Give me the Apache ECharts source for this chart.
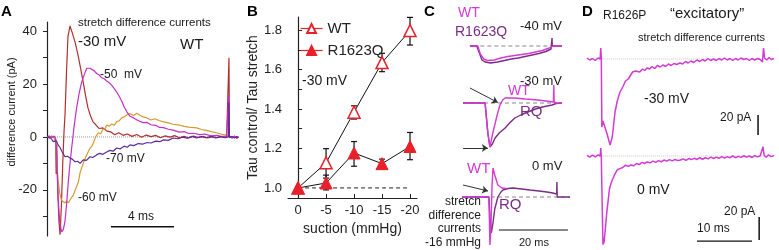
<!DOCTYPE html>
<html>
<head>
<meta charset="utf-8">
<script src="https://cdn.jsdelivr.net/npm/echarts@6/dist/echarts.min.js"></script>
<style>
  html, body { margin: 0; padding: 0; background: #fff; }
  #fig { width: 779px; height: 250px; }
</style>
</head>
<body>
<div id="fig"></div>
<script>
// ---- panel A: stretch difference currents, WT (t in ms, I in pA)
const traceA30 = [[0,0.2],[0.15,-0.4],[0.3,0.3],[0.45,-0.2],[0.55,-1.2],[0.58,-14],[0.62,-3],[0.68,-20],[0.76,-32],[0.83,-37],[0.92,-25],[1.0,-10],[1.08,2],[1.14,8],[1.24,25],[1.33,38],[1.46,42],[1.6,39.5],[1.8,35.5],[1.97,31],[2.13,26],[2.29,21],[2.45,15.5],[2.6,11],[2.76,8],[2.92,5.7],[3.1,4.6],[3.3,3.2],[3.55,3.4],[3.81,2.2],[4.05,1.9],[4.3,0.8],[4.55,1.6],[4.83,0.6],[5.1,1.1],[5.4,0.2],[5.7,0.9],[6.0,-0.1],[6.3,0.7],[6.6,0.1],[6.9,0.6],[7.2,-0.3],[7.5,0.4],[7.8,-0.1],[8.1,0.5],[8.4,-0.3],[8.7,0.2],[9.0,-0.4],[9.3,0.3],[9.6,-0.2],[9.9,0.2],[10.2,-0.4],[10.5,0.1],[10.8,-0.3],[11.1,0.2],[11.4,-0.2],[11.52,0.1],[11.55,30],[11.58,0.3],[11.75,-0.4],[11.9,0.3],[12.05,-0.5],[12.15,0.1]];
const traceA50 = [[0,0],[0.15,0.3],[0.3,-0.2],[0.45,0.3],[0.55,-0.5],[0.62,-8],[0.7,-22],[0.8,-32],[0.93,-36],[1.04,-35],[1.14,-32],[1.25,-25],[1.35,-17],[1.46,-10],[1.57,-4],[1.72,4],[1.88,11],[2.04,16.5],[2.2,20.7],[2.36,23.5],[2.52,26],[2.62,26.5],[2.73,26],[2.85,26.4],[3.0,25],[3.15,24],[3.3,23.5],[3.47,22.4],[3.63,22],[3.79,21.2],[3.95,20.5],[4.1,19.6],[4.26,18.4],[4.42,17],[4.58,15.4],[4.74,13.6],[4.9,11.3],[5.06,9.6],[5.27,7.8],[5.5,7.2],[5.8,6.1],[6.1,5.4],[6.35,5.5],[6.6,4.6],[6.9,4.4],[7.15,3.6],[7.4,3.5],[7.7,2.9],[8.0,2.6],[8.4,1.8],[8.7,2.0],[9.0,1.3],[9.3,1.4],[9.7,0.9],[10.0,1.1],[10.4,0.4],[10.8,0.6],[11.1,0.1],[11.4,0.3],[11.52,0],[11.55,16],[11.58,0.2],[11.75,-0.3],[11.9,0.2],[12.05,-0.4],[12.15,0]];
const traceA60 = [[0,0],[0.15,-0.3],[0.3,0.2],[0.45,-0.4],[0.55,-2],[0.62,-9],[0.7,-16],[0.8,-21],[0.92,-24],[1.04,-24.5],[1.14,-25],[1.25,-24.2],[1.35,-25],[1.5,-23.5],[1.67,-22],[1.83,-19.5],[1.99,-17],[2.1,-13.5],[2.2,-11.7],[2.36,-9],[2.52,-6.8],[2.7,-4.6],[2.85,-3.5],[2.94,-2.3],[3.1,0.2],[3.26,1.5],[3.4,1.2],[3.55,2.8],[3.7,3.3],[3.79,4.5],[3.95,4.1],[4.1,4.9],[4.26,4.4],[4.42,5.7],[4.58,6.1],[4.74,7.2],[4.9,7.6],[5.06,8.3],[5.27,8.8],[5.5,8.1],[5.7,9],[5.9,8.2],[6.1,7.6],[6.35,7.2],[6.6,6.4],[6.85,6.9],[7.1,6.2],[7.4,5.7],[7.7,5.3],[8.0,4.8],[8.4,4.5],[8.7,4.0],[9.0,3.7],[9.5,3.4],[9.8,2.8],[10.1,2.5],[10.5,1.9],[10.8,1.5],[11.1,1.0],[11.3,0.8],[11.52,0.5],[11.55,15],[11.58,0.3],[11.75,-0.2],[11.9,0.3],[12.05,-0.3],[12.15,0]];
const traceA70 = [[0,0],[0.12,0.3],[0.25,-0.5],[0.4,-1.8],[0.5,-2.5],[0.6,-1.5],[0.7,-3],[0.83,-4],[0.95,-5.5],[1.05,-6.2],[1.14,-7.5],[1.3,-7.3],[1.46,-8],[1.62,-8.5],[1.78,-9.4],[1.94,-9.2],[2.1,-10],[2.2,-9.6],[2.3,-8.7],[2.5,-8.9],[2.73,-7.5],[2.9,-7.8],[3.15,-6.8],[3.35,-6.2],[3.55,-6.6],[3.79,-5.7],[4.0,-5.1],[4.2,-5.4],[4.42,-4.2],[4.65,-4.5],[4.9,-3.5],[5.1,-3.9],[5.27,-3],[5.5,-3.3],[5.8,-2.5],[6.1,-2.7],[6.35,-2.1],[6.6,-2.3],[6.9,-1.6],[7.15,-1.8],[7.4,-1.1],[7.7,-1.3],[8.0,-0.4],[8.3,-0.7],[8.6,-0.1],[8.9,-0.5],[9.2,0.2],[9.5,-0.4],[9.8,0.1],[10.1,-0.3],[10.4,0.2],[10.7,-0.4],[11.0,0.1],[11.3,-0.3],[11.52,0],[11.55,13],[11.58,-0.2],[11.75,0.2],[11.9,-0.4],[12.05,0.2],[12.15,-0.2]];
const ticksA = [-30,-20,-10,0,10,20,30,40];
const labelsA = [-20,0,20,40];
const barA = [[4.06,-34],[8.06,-34]];

// ---- panel B: tau ratio vs suction
const suction = [0,-5,-10,-15,-20];
const wtMean = [1.0,1.127,1.384,1.635,1.797];
const wtHigh = [null,1.199,1.416,1.682,1.864];
const wtLow  = [null,1.05,1.349,1.589,1.724];
const rqMean = [1.0,1.025,1.177,1.123,1.21];
const rqHigh = [null,1.065,1.235,1.146,1.281];
const rqLow  = [null,0.99,1.11,1.098,1.143];
const ticksB = [1.0,1.1,1.2,1.3,1.4,1.5,1.6,1.7,1.8];
const labelsB = [1.0,1.2,1.4,1.6,1.8];

// ---- panel C: WT vs R1623Q difference currents (t in ms, arbitrary units)
const c40wt = [[2,0],[4.3,0],[5,-8],[6,-13],[7,-14.5],[9,-14],[11,-12],[13,-10.5],[15,-9.5],[17,-8.5],[19,-7.5],[21,-6],[23,-4.5],[25,-2],[26,0],[28.7,0]];
const c40rq = [[2,0],[4,0],[4.3,-3],[5.5,-14],[6.4,-16],[8,-17],[10,-16],[12,-14.5],[14,-13],[16,-12],[18,-10.5],[20,-9],[22,-7.5],[24,-5.5],[25.5,-3],[25.75,-1],[25.8,8],[25.85,0],[27,0],[28.7,0]];
const c30wt = [[0,0],[6.4,0],[7.2,-30],[7.8,-44],[8.7,-29],[9.9,-12],[10.7,-2],[11.5,3],[12.2,5],[15,5],[18,4],[21.7,3],[24,2],[26.2,1],[26.3,18],[26.4,1],[27,0],[28.7,0]];
const c30rq = [[0,0],[6.4,0],[7.2,-30],[7.8,-44],[8.5,-41],[9.3,-35],[10.5,-30],[12.2,-25],[13.5,-20],[15,-15],[17,-11.5],[18.8,-9],[21,-6],[23,-4],[25.8,-2],[27,-0.5],[28.7,0]];
const c0wt = [[-0.3,0],[7.5,0],[7.8,-48],[8.1,-30],[8.4,10],[8.7,29],[9.2,22],[10.1,12],[11.3,9],[12.5,8.5]];
const c0rq = [[-0.3,0],[7.5,0],[7.8,-20],[8.2,-36],[8.6,-28],[9.2,-12],[10.1,0],[11,5],[11.6,7],[13,8.5],[14.5,9],[17,8],[19.4,7],[22,6],[24.3,5],[26,4],[27.15,3],[27.2,15],[27.3,0],[31,0]];
const barC = [[10.4,-33],[30.4,-33]];

// ---- panel D: R1626P (t in ms, I in pA)
const d30 = [[0,1],[0.5,-1],[1,0.5],[1.5,-1.5],[2,1],[2.4,0],[2.5,11],[2.6,2],[2.7,-68],[2.9,-62],[3.2,-60],[3.6,-74],[4.2,-86],[4.6,-78],[5.1,-53],[5.5,-42],[6,-33],[6.5,-28],[7,-22],[7.5,-20],[7.8,-18],[8.3,-13],[8.8,-12],[9.1,-11],[9.6,-13],[10.1,-10],[10.5,-11.5],[10.9,-9],[11.4,-10],[11.8,-7.5],[12.3,-9.5],[12.8,-6.5],[13.3,-8],[13.8,-6],[14.3,-7.5],[14.8,-5],[15.3,-6.5],[15.8,-4.5],[16.3,-5.5],[16.9,-4],[17.4,-5],[17.9,-2.5],[18.4,-4],[18.9,-2],[19.4,-3.5],[20,-1],[20.5,-2.5],[21,-0.5],[21.5,-2],[22,0.5],[22.5,-1.5],[23,0],[23.5,-1.5],[24,0.5],[24.5,-1],[25,1],[25.5,-1],[26,0.5],[26.5,-1.5],[27,0.5],[27.5,-1],[28,1],[28.5,-0.5],[29,0.5],[29.5,-1.5],[30,0.5],[30.5,-1],[31,0.5],[31.5,-0.5],[31.9,-3],[32.1,11],[32.3,1],[32.7,-1],[33.1,1.5],[33.5,-0.5],[34,0.5]];
const d0 = [[0,0.5],[0.5,-1],[1,0.8],[1.5,-0.8],[2,1],[2.4,0],[2.5,7],[2.6,0],[2.75,-40],[2.9,-77],[3.1,-75],[3.4,-60],[3.6,-49],[4.1,-28],[4.5,-22],[5.0,-16.5],[5.5,-12],[6,-11],[6.5,-10],[7,-8],[7.5,-9],[8,-7.8],[8.5,-8.5],[9,-6.5],[9.5,-7.5],[10,-5.5],[10.5,-6.5],[10.9,-5.2],[11.5,-6],[12,-4.5],[12.5,-5.5],[13,-4],[13.5,-5],[14,-3.5],[14.5,-4.5],[15,-3.2],[15.5,-4.2],[16,-3],[16.5,-4],[17,-3.5],[17.5,-2.5],[18,-3.8],[18.5,-2.2],[19,-3.2],[19.5,-2],[20,-3],[20.5,-1.5],[21,-2.8],[21.5,-1.5],[22,-2.5],[22.5,-1],[23,-2.2],[23.5,-1],[24,-2],[24.5,-0.5],[25,-1.8],[25.5,-0.5],[26,-1.5],[26.5,0],[27,-1.5],[27.5,-0.3],[28,-1.2],[28.5,0.2],[29,-1],[29.5,0],[30,-1.3],[30.5,0.3],[31,-0.8],[31.5,0.2],[31.8,-1.5],[32,8],[32.2,0.5],[32.6,-1],[33,1],[33.5,-0.5],[34,0.5]];
const barD30 = [[31.1,-56],[31.1,-76]];
const barD0 = [[31.3,-53],[31.3,-73]];
const barDt = [[20,-74],[30,-74]];

const FONT = '"Liberation Sans", Arial, sans-serif';
const MAG = '#d43ad4', PUR = '#7a2c86';

function trace(data, color, i, width, extra) {
  return Object.assign({
    type: 'line', data: data, xAxisIndex: i, yAxisIndex: i,
    symbol: 'none', silent: true, lineStyle: { color: color, width: width || 1.2 }
  }, extra || {});
}
function rule(data, i, style) {
  return { type: 'line', data: data, xAxisIndex: i, yAxisIndex: i, symbol: 'none', silent: true,
    lineStyle: Object.assign({ color: '#111', width: 1.3 }, style || {}) };
}
function txt(x, y, s, size, color, extra) {
  return Object.assign({
    type: 'text', x: x, y: y,
    style: { text: s, fill: color || '#1a1a1a', font: (size || 12) + 'px ' + FONT }
  }, extra || {});
}
function errBars(high, low, name) {
  const d = suction.map((s, i) => [s, low[i], high[i]]).filter(r => r[1] != null);
  return {
    type: 'custom', name: name, xAxisIndex: 1, yAxisIndex: 1, silent: true, z: 1, data: d,
    renderItem: (params, api) => {
      const lo = api.coord([api.value(0), api.value(1)]);
      const hi = api.coord([api.value(0), api.value(2)]);
      const w = 3;
      const st = { stroke: '#111', lineWidth: 1.2 };
      return { type: 'group', children: [
        { type: 'line', shape: { x1: lo[0], y1: lo[1], x2: hi[0], y2: hi[1] }, style: st },
        { type: 'line', shape: { x1: hi[0] - w, y1: hi[1], x2: hi[0] + w, y2: hi[1] }, style: st },
        { type: 'line', shape: { x1: lo[0] - w, y1: lo[1], x2: lo[0] + w, y2: lo[1] }, style: st }
      ] };
    }
  };
}
function letter(x, s) {
  return { type: 'text', x: x, y: 4, style: { text: s, fill: '#000', font: 'bold 15px ' + FONT } };
}

const chart = echarts.init(document.getElementById('fig'));
const option = {
  animation: false,
  backgroundColor: '#fff',
  textStyle: { fontFamily: FONT },
  grid: [
    { left: 43, top: 22, width: 197, height: 214 },
    { left: 288, top: 17, width: 129, height: 181 },
    { left: 463, top: 32, width: 107, height: 34 },
    { left: 463, top: 83, width: 107, height: 68 },
    { left: 463, top: 165, width: 107, height: 84 },
    { left: 587, top: 45, width: 187, height: 104 },
    { left: 587, top: 144.5, width: 187, height: 103.5 }
  ],
  xAxis: [
    { gridIndex: 0, type: 'value', min: -0.254, max: 12.25, show: false },
    { gridIndex: 1, type: 'value', inverse: true, min: -21.25, max: 1.8,
      axisLine: { lineStyle: { color: '#222', width: 1.2 } },
      axisTick: { inside: true, length: 4, customValues: suction, lineStyle: { color: '#222' } },
      axisLabel: { customValues: suction, fontSize: 13, color: '#222', margin: 6 },
      splitLine: { show: false },
      name: 'suction (mmHg)', nameLocation: 'middle', nameGap: 16,
      nameTextStyle: { fontSize: 14, color: '#222' } },
    { gridIndex: 2, type: 'value', min: 0, max: 31, show: false },
    { gridIndex: 3, type: 'value', min: 0, max: 31, show: false },
    { gridIndex: 4, type: 'value', min: 0, max: 31, show: false },
    { gridIndex: 5, type: 'value', min: 0, max: 34, show: false },
    { gridIndex: 6, type: 'value', min: 0, max: 34, show: false }
  ],
  yAxis: [
    { gridIndex: 0, type: 'value', min: -37.5, max: 43.5,
      axisLine: { show: true, lineStyle: { color: '#222', width: 1.2 } },
      axisTick: { show: true, length: 4, customValues: ticksA, lineStyle: { color: '#222' } },
      axisLabel: { customValues: labelsA, fontSize: 13, color: '#222', margin: 6 },
      splitLine: { show: false } },
    { gridIndex: 1, type: 'value', min: 0.949, max: 1.866,
      axisLine: { show: true, lineStyle: { color: '#222', width: 1.2 } },
      axisTick: { show: true, inside: true, length: 4, customValues: ticksB, lineStyle: { color: '#222' } },
      axisLabel: { customValues: labelsB, fontSize: 13, color: '#222', margin: 6,
        formatter: v => v.toFixed(1) },
      splitLine: { show: false },
      name: 'Tau control/ Tau stretch', nameLocation: 'middle', nameGap: 23,
      nameTextStyle: { fontSize: 14, color: '#222' } },
    { gridIndex: 2, type: 'value', min: -20, max: 14, show: false },
    { gridIndex: 3, type: 'value', min: -48, max: 20, show: false },
    { gridIndex: 4, type: 'value', min: -52, max: 32, show: false },
    { gridIndex: 5, type: 'value', min: -90, max: 14, show: false },
    { gridIndex: 6, type: 'value', min: -80, max: 10, show: false }
  ],
  legend: {
    data: ['WT', 'R1623Q'], orient: 'vertical', left: 295, top: 16,
    itemWidth: 22, itemHeight: 11, itemGap: 7,
    lineStyle: { color: '#e8202a', width: 1.2 },
    textStyle: { fontSize: 15, color: '#222', fontFamily: FONT }
  },
  series: [
    // A
    rule([[0,0],[12.15,0]], 0, { color: '#999', width: 1, type: 'dotted' }),
    trace(traceA30, '#b0302c', 0),
    trace(traceA60, '#d49a32', 0),
    trace(traceA50, '#c42ec8', 0),
    trace(traceA70, '#5b2c9c', 0),
    rule(barA, 0),
    // B
    rule([[0,1],[-20,1]], 1, { color: '#222', width: 1, type: [4, 3] }),
    errBars(wtHigh, wtLow, 'wtErr'),
    errBars(rqHigh, rqLow, 'rqErr'),
    { name: 'WT', type: 'line', xAxisIndex: 1, yAxisIndex: 1, z: 3,
      data: suction.map((s, i) => [s, wtMean[i]]),
      symbol: 'triangle', symbolSize: 12,
      itemStyle: { color: '#fff', borderColor: '#e8202a', borderWidth: 1.5 },
      lineStyle: { color: '#111', width: 1 } },
    { name: 'R1623Q', type: 'line', xAxisIndex: 1, yAxisIndex: 1, z: 3,
      data: suction.map((s, i) => [s, rqMean[i]]),
      symbol: 'triangle', symbolSize: 12,
      itemStyle: { color: '#e8202a', borderColor: '#e8202a', borderWidth: 1 },
      lineStyle: { color: '#111', width: 1 } },
    // C
    rule([[3,0],[26.7,0]], 2, { color: '#888', width: 1, type: [4, 3] }),
    trace(c40rq, PUR, 2, 1.4),
    trace(c40wt, MAG, 2, 1.4),
    rule([[0,0],[26.7,0]], 3, { color: '#888', width: 1, type: [4, 3] }),
    trace(c30rq, PUR, 3, 1.4),
    trace(c30wt, MAG, 3, 1.4, {
      markLine: {
        silent: true, symbol: ['none', 'arrow'], symbolSize: 6, label: { show: false },
        lineStyle: { color: '#333', width: 1, type: 'solid' },
        data: [
          [{ coord: [2.03, 15], lineStyle: { curveness: -0.3 } }, { coord: [10.1, 0.5] }],
          [{ coord: [0, -45] }, { coord: [7.2, -45] }]
        ]
      }
    }),
    rule([[0,0],[31,0]], 4, { color: '#888', width: 1, type: [4, 3] }),
    trace(c0rq, PUR, 4, 1.4),
    trace(c0wt, MAG, 4, 1.4, {
      markLine: {
        silent: true, symbol: ['none', 'arrow'], symbolSize: 6, label: { show: false },
        lineStyle: { color: '#333', width: 1, type: 'solid' },
        data: [[{ coord: [0, 12], lineStyle: { curveness: -0.1 } }, { coord: [7.25, 6] }]]
      }
    }),
    rule(barC, 4, { width: 1 }),
    // D
    rule([[2.5,0],[32,0]], 5, { color: '#c8c8c8', width: 1, type: 'dotted' }),
    trace(d30, MAG, 5, 1.5),
    rule(barD30, 5, { width: 1.5 }),
    rule([[2.5,0],[32,0]], 6, { color: '#c8c8c8', width: 1, type: 'dotted' }),
    trace(d0, MAG, 6, 1.5),
    rule(barD0, 6, { width: 1.5 }),
    rule(barDt, 6, { width: 1.3 })
  ],
  graphic: [
    letter(1, 'A'), letter(247, 'B'), letter(424, 'C'), letter(582, 'D'),
    // A
    { type: 'text', x: 12, y: 112, rotation: Math.PI / 2,
      style: { text: 'difference current (pA)', fill: '#1a1a1a', font: '11px ' + FONT,
        textAlign: 'center', textVerticalAlign: 'middle' } },
    txt(78, 17, 'stretch difference currents', 11.5),
    txt(78, 34, '-30 mV', 15),
    txt(180, 37, 'WT', 15),
    txt(100, 69, '-50  mV', 12),
    txt(106, 153, '-70 mV', 12),
    txt(78, 192, '-60 mV', 12),
    txt(128, 211, '4 ms', 12),
    // B
    txt(302, 74, '-30 mV', 14),
    // C
    txt(458, 6, 'WT', 14, MAG),
    txt(455, 25, 'R1623Q', 14, PUR),
    txt(520, 20, '-40 mV', 13),
    txt(520, 75, '-30 mV', 13),
    txt(508, 84, 'WT', 14, MAG),
    txt(520, 104, 'RQ', 15, PUR),
    txt(467, 161, 'WT', 15, MAG),
    txt(532, 160, '0 mV', 13),
    txt(499, 197, 'RQ', 15, PUR),
    { type: 'text', x: 481, y: 195,
      style: { text: 'stretch\ndifference\ncurrents\n-16 mmHg', fill: '#1a1a1a',
        font: '12px ' + FONT, textAlign: 'right', lineHeight: 13.5 } },
    txt(519, 237, '20 ms', 11),
    // D
    txt(603, 10, 'R1626P', 12),
    txt(670, 6, '\u201Cexcitatory\u201D', 15),
    txt(638, 32, 'stretch difference currents', 11),
    txt(644, 92, '-30 mV', 14),
    txt(720, 112, '20 pA', 12),
    txt(637, 183, '0 mV', 14),
    txt(724, 206, '20 pA', 12),
    txt(697, 223, '10 ms', 12)
  ]
};
chart.setOption(option);
</script>
</body>
</html>
